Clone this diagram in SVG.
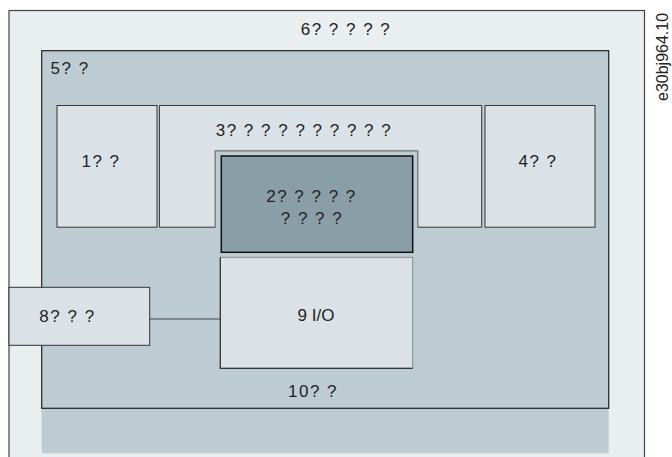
<svg xmlns="http://www.w3.org/2000/svg" width="672" height="457" viewBox="0 0 672 457">
<style>
text{font-family:"Liberation Sans",Arial,sans-serif;font-size:17px;fill:#222;letter-spacing:1.5px}
.c{text-anchor:middle}
.lt{fill:#dae2e8;stroke:#333;stroke-width:1}
.bg{fill:#bdccd3}
.conn{stroke:#444;stroke-width:1.2;fill:none}
</style>
<rect width="672" height="457" fill="#fff"/>
<g id="n6">
<rect x="9" y="10.5" width="635.5" height="452" fill="#e9eef1" stroke="#444" stroke-width="1.2"/>
<text class="c" x="346" y="35">6? ? ? ? ?</text>
</g>
<g id="n5">
<rect class="bg" x="41.7" y="50.7" width="567" height="402.6"/>
<rect x="41.7" y="50.7" width="567" height="357.6" fill="none" stroke="#222" stroke-width="1.2"/>
<text x="50.5" y="74">5? ?</text>
</g>
<g id="n1">
<rect class="lt" x="57" y="105.5" width="100" height="121.7"/>
<text class="c" x="101" y="167">1? ?</text>
</g>
<g id="n3">
<path class="lt" d="M159.4,105.5H481.7V227.2H417.7V150.7H215.3V227.2H159.4Z"/>
<path d="M215.3,227.2V150.7H417.7V227.2" fill="none" stroke="#888" stroke-width="1.2"/>
<text class="c" x="304" y="136">3? ? ? ? ? ? ? ? ? ?</text>
</g>
<g id="n4">
<rect class="lt" x="485" y="105.5" width="110" height="121.7"/>
<text class="c" x="538" y="167">4? ?</text>
</g>
<g id="n2">
<rect x="221.3" y="156" width="191.4" height="96.3" fill="#8a9ea8" stroke="#111" stroke-width="1.5"/>
<text class="c" x="311.5" y="201.5">2? ? ? ? ?</text>
<text class="c" x="312" y="224">? ? ? ?</text>
</g>
<g id="n9">
<rect x="220.3" y="257.3" width="192.4" height="111" fill="#dae2e8" stroke="#888" stroke-width="1"/>
<path d="M220.3,257.3V368.3H412.7" fill="none" stroke="#333" stroke-width="1.2"/>
<text class="c" x="316" y="321" style="letter-spacing:0">9 I/O</text>
</g>
<g id="n8">
<rect class="lt" x="9" y="287.3" width="140.7" height="58"/>
<text class="c" x="67.5" y="322.3">8? ? ?</text>
</g>
<g id="n10">
<text class="c" x="313" y="397">10? ?</text>
</g>
<g id="connectors">
<line class="conn" x1="149.7" y1="319" x2="220.3" y2="319"/>
</g>
<g id="label">
<text transform="translate(668,101) rotate(-90)" style="font-size:16px;letter-spacing:0;fill:#222">e30bj964.10</text>
</g>
</svg>
